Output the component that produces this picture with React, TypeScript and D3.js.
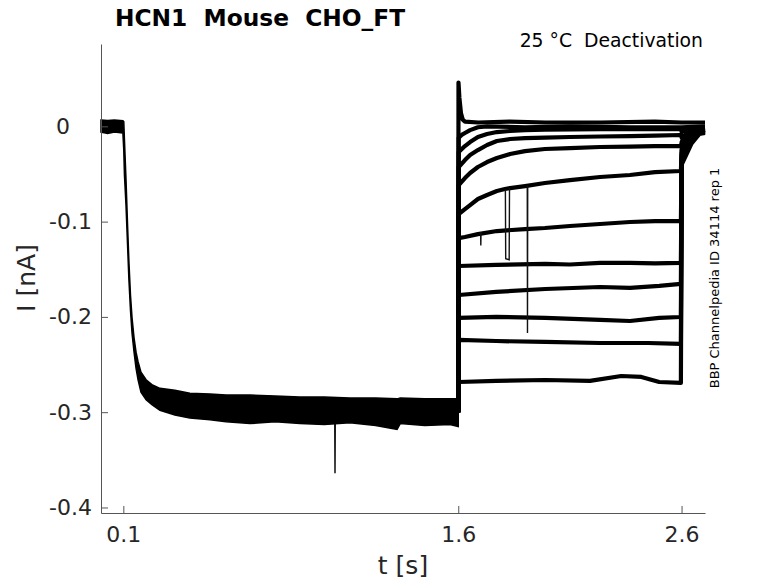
import React, { useEffect, useRef } from "react";
import * as d3 from "d3";

// axis setup (s, nA)
const xDomain = [0, 2.705];
const yDomain = [-0.4058, 0.0864];
const xTicks = [0.1, 1.6, 2.6];
const yTicks = [0, -0.1, -0.2, -0.3, -0.4];

// activation step, all sweeps overlapping: [t, upper edge, lower edge]
const activationBand = [
  [0.0, 0.0066, -0.006],
  [0.03, 0.006, -0.0075],
  [0.06, 0.0066, -0.006],
  [0.098, 0.006, -0.007],
  [0.102, 0.005, -0.025],
  [0.105, -0.014, -0.051],
  [0.112, -0.056, -0.083],
  [0.119, -0.104, -0.125],
  [0.125, -0.142, -0.161],
  [0.132, -0.177, -0.193],
  [0.139, -0.201, -0.217],
  [0.148, -0.222, -0.237],
  [0.157, -0.237, -0.254],
  [0.166, -0.247, -0.266],
  [0.179, -0.258, -0.279],
  [0.202, -0.266, -0.287],
  [0.228, -0.271, -0.292],
  [0.264, -0.275, -0.298],
  [0.331, -0.277, -0.303],
  [0.398, -0.28, -0.306],
  [0.488, -0.281, -0.308],
  [0.56, -0.282, -0.31],
  [0.667, -0.282, -0.312],
  [0.78, -0.283, -0.31],
  [0.891, -0.284, -0.312],
  [1.0, -0.284, -0.313],
  [1.115, -0.285, -0.311],
  [1.23, -0.285, -0.314],
  [1.326, -0.286, -0.318],
  [1.34, -0.285, -0.312],
  [1.45, -0.286, -0.314],
  [1.563, -0.286, -0.313],
  [1.6, -0.286, -0.315],
];
const activationSpike = [[1.047, -0.312], [1.048, -0.364], [1.049, -0.312]];
const bandEnd = -0.3;

// deactivation tails: [t, I]
const tail1 = [[1.601, 0.046], [1.605, 0.03], [1.612, 0.014], [1.62, 0.007], [1.63, 0.005], [1.69, 0.004], [1.83, 0.005], [1.99, 0.004], [2.24, 0.004], [2.48, 0.005], [2.6, 0.004], [2.705, 0.004]];
const tail2 = [[1.602, -0.012], [1.615, -0.009], [1.63, -0.007], [1.653, -0.004], [1.688, -0.001], [1.729, 0.0], [1.9, -0.001], [2.1, 0.0], [2.37, -0.001], [2.6, -0.001], [2.705, 0.0]];
const tail3 = [[1.602, -0.027], [1.63, -0.0207], [1.653, -0.0165], [1.688, -0.0112], [1.729, -0.0081], [1.773, -0.006], [1.832, -0.0049], [1.899, -0.0039], [1.988, -0.0034], [2.235, -0.003], [2.597, -0.003], [2.601, -0.006], [2.64, -0.002], [2.705, -0.001]];
const tail4 = [[1.602, -0.0427], [1.63, -0.0354], [1.653, -0.0301], [1.688, -0.0249], [1.729, -0.0196], [1.773, -0.0154], [1.832, -0.0133], [1.899, -0.0123], [1.988, -0.0118], [2.1, -0.0112], [2.235, -0.0107], [2.369, -0.0102], [2.481, -0.0097], [2.597, -0.0091], [2.601, -0.012], [2.64, -0.004], [2.705, -0.002]];
const tail5 = [[1.602, -0.0616], [1.63, -0.0543], [1.653, -0.049], [1.688, -0.0427], [1.729, -0.0375], [1.773, -0.0333], [1.832, -0.0291], [1.899, -0.026], [1.988, -0.0238], [2.1, -0.0228], [2.235, -0.0217], [2.369, -0.0212], [2.481, -0.0207], [2.597, -0.0207], [2.601, -0.016], [2.63, -0.008], [2.66, -0.004], [2.705, -0.003]];
const tail6 = [[1.602, -0.092], [1.63, -0.0868], [1.653, -0.0826], [1.688, -0.0763], [1.729, -0.0721], [1.773, -0.0679], [1.809, -0.0658], [1.832, -0.0648], [1.899, -0.0627], [1.988, -0.0595], [2.1, -0.0564], [2.235, -0.0532], [2.369, -0.0511], [2.481, -0.048], [2.597, -0.0469], [2.601, -0.022], [2.63, -0.011], [2.66, -0.005], [2.705, -0.004]];
const tail7 = [[1.602, -0.1173], [1.63, -0.1162], [1.688, -0.1131], [1.773, -0.1099], [1.899, -0.1078], [1.988, -0.1067], [2.1, -0.1046], [2.235, -0.1025], [2.369, -0.1004], [2.481, -0.0994], [2.597, -0.0994], [2.601, -0.025], [2.63, -0.012], [2.67, -0.005], [2.705, -0.004]];
const tail8 = [[1.602, -0.1466], [1.77, -0.1455], [1.99, -0.1444], [2.1, -0.145], [2.235, -0.1434], [2.369, -0.1434], [2.481, -0.1439], [2.597, -0.1434], [2.601, -0.028], [2.635, -0.013], [2.67, -0.006], [2.705, -0.005]];
const tail9 = [[1.602, -0.177], [1.77, -0.1738], [1.99, -0.1707], [2.235, -0.1686], [2.369, -0.1696], [2.5, -0.1675], [2.597, -0.1654], [2.601, -0.03], [2.64, -0.012], [2.67, -0.006], [2.705, -0.004]];
const tail10 = [[1.602, -0.2011], [1.77, -0.2], [1.99, -0.2011], [2.235, -0.2032], [2.369, -0.2043], [2.5, -0.2011], [2.597, -0.2001], [2.601, -0.033], [2.64, -0.014], [2.68, -0.006], [2.705, -0.006]];
const tail11 = [[1.602, -0.2242], [1.77, -0.2253], [1.99, -0.2263], [2.235, -0.2274], [2.45, -0.2274], [2.597, -0.2284], [2.601, -0.036], [2.64, -0.016], [2.68, -0.007], [2.705, -0.006]];
const tail12 = [[1.602, -0.2683], [1.77, -0.2672], [1.99, -0.2662], [2.19, -0.2672], [2.33, -0.262], [2.42, -0.263], [2.5, -0.2683], [2.597, -0.2693], [2.601, -0.04], [2.645, -0.018], [2.68, -0.008], [2.705, -0.007]];
const tails = [tail1, tail2, tail3, tail4, tail5, tail6, tail7, tail8, tail9, tail10, tail11, tail12];

// short artefacts on single sweeps
const glitches = [
  [[1.811, -0.066], [1.8125, -0.139], [1.828, -0.14], [1.8295, -0.065]],
  [[1.909, -0.062], [1.91, -0.217], [1.911, -0.062]],
  [[1.7, -0.111], [1.701, -0.125], [1.702, -0.111]],
];

const FONT = "'DejaVu Sans', sans-serif";
const TEXT = "#262626";

function App() {
  // eslint-disable-next-line @typescript-eslint/no-explicit-any
  const svgRef: any = useRef();

  useEffect(() => {
    const svg = d3.select(svgRef.current);
    svg.selectAll("*").remove();

    const x = d3.scaleLinear().domain(xDomain).range([101, 705]);
    const y = d3.scaleLinear().domain(yDomain).range([513, 44]);

    // eslint-disable-next-line @typescript-eslint/no-explicit-any
    const line: any = d3.line().x((d: any) => x(d[0])).y((d: any) => y(d[1]));
    // eslint-disable-next-line @typescript-eslint/no-explicit-any
    const band: any = d3.area().x((d: any) => x(d[0])).y0((d: any) => y(d[2])).y1((d: any) => y(d[1]));

    const plot = svg.append("g");
    plot.append("path").attr("d", band(activationBand)).attr("fill", "#000").attr("stroke", "#000").attr("stroke-width", 1.5);
    plot.append("path").attr("d", line(activationSpike)).attr("fill", "none").attr("stroke", "#000").attr("stroke-width", 1.4);

    plot
      .selectAll(".tail")
      .data(tails)
      .join("path")
      .attr("class", "tail")
      .attr("d", (d) => line([[xTicks[1], bandEnd], ...d]))
      .attr("fill", "none")
      .attr("stroke", "#000")
      .attr("stroke-width", 4.2)
      .attr("stroke-linejoin", "round");

    plot
      .selectAll(".glitch")
      .data(glitches)
      .join("path")
      .attr("class", "glitch")
      .attr("d", line)
      .attr("fill", "none")
      .attr("stroke", "#111")
      .attr("stroke-width", 1.4);

    // axes (hyphen-minus labels, inward ticks)
    // eslint-disable-next-line @typescript-eslint/no-explicit-any
    const fmt = (d: any) => (d === 0 ? "0" : d.toFixed(1));
    // eslint-disable-next-line @typescript-eslint/no-explicit-any
    const xAxis: any = d3.axisBottom(x).tickValues(xTicks).tickFormat(fmt).tickSizeInner(-7).tickSizeOuter(0).tickPadding(13);
    const gx = svg.append("g").attr("transform", "translate(0,513)").call(xAxis);
    // eslint-disable-next-line @typescript-eslint/no-explicit-any
    const yAxis: any = d3.axisLeft(y).tickValues(yTicks).tickFormat(fmt).tickSizeInner(-7).tickSizeOuter(0).tickPadding(9);
    const gy = svg.append("g").attr("transform", "translate(101,0)").call(yAxis);

    [gx, gy].forEach((g) => {
      g.select(".domain").attr("stroke", "#555").attr("stroke-width", 1);
      g.selectAll(".tick line").attr("stroke", "#555").attr("stroke-width", 1);
      g.selectAll(".tick text").attr("font-family", FONT).attr("font-size", 22).attr("fill", TEXT);
    });
    gy.selectAll(".tick text").filter((d) => d === 0).attr("x", -31);

    // labels
    svg.append("text").attr("x", 403).attr("y", 574).attr("text-anchor", "middle")
      .attr("font-family", FONT).attr("font-size", 25).attr("fill", TEXT).text("t [s]");
    svg.append("text").attr("transform", "translate(35,278) rotate(-90)").attr("text-anchor", "middle")
      .attr("font-family", FONT).attr("font-size", 25).attr("fill", TEXT).text("I [nA]");
    svg.append("text").attr("x", 115).attr("y", 26).attr("font-family", FONT).attr("font-size", 23.3)
      .attr("font-weight", "bold").attr("fill", "#000").style("white-space", "pre").text("HCN1  Mouse  CHO_FT");
    svg.append("text").attr("x", 703).attr("y", 47).attr("text-anchor", "end").attr("font-family", FONT)
      .attr("font-size", 18.8).attr("fill", "#000").style("white-space", "pre").text("25 °C  Deactivation");
    svg.append("text").attr("transform", "translate(719,278) rotate(-90)").attr("text-anchor", "middle")
      .attr("font-family", FONT).attr("font-size", 13).attr("fill", "#000").text("BBP Channelpedia ID 34114 rep 1");
  }, []);

  return (
    <div style={{ position: "absolute", left: 0, top: 0 }}>
      <svg ref={svgRef} width={778} height={583} style={{ display: "block", background: "#fff" }} />
    </div>
  );
}

export default App;
